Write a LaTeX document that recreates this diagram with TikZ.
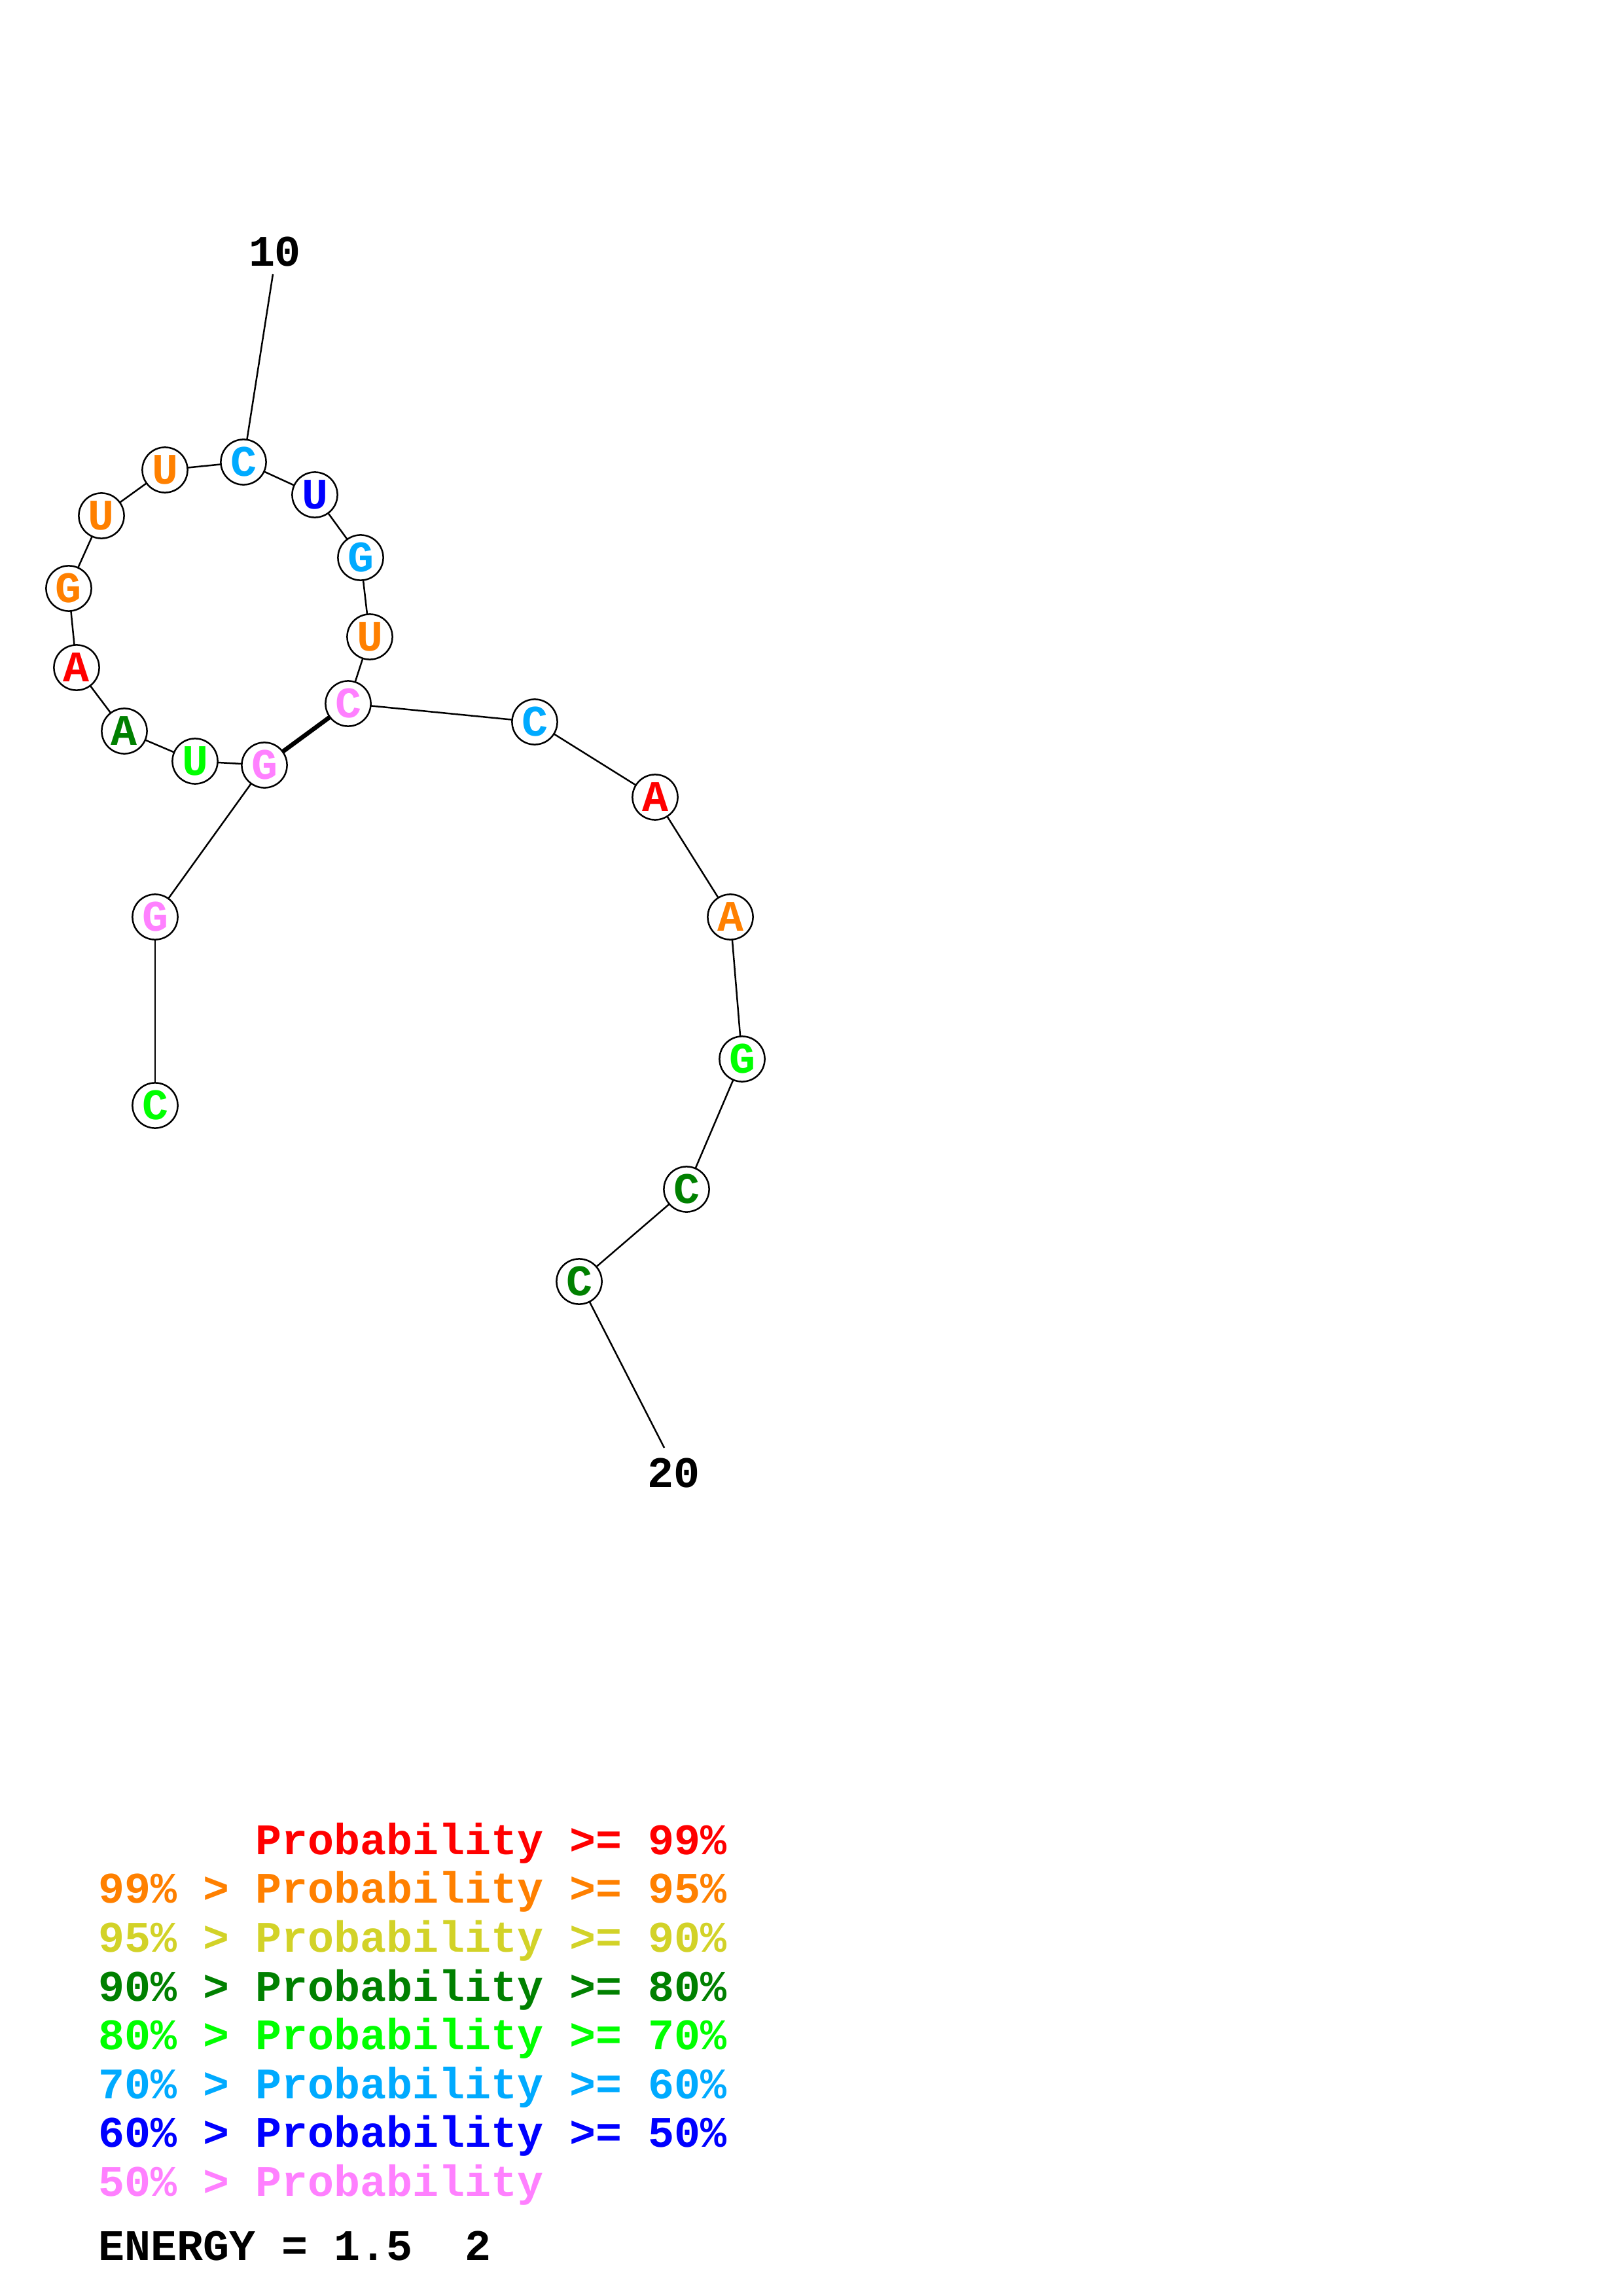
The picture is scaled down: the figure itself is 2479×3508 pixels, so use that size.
\documentclass[tikz,border=0pt]{standalone}
\usepackage{fontspec}
\usetikzlibrary{backgrounds}
\newfontfamily\cour{Liberation Mono}
\definecolor{cRed}{RGB}{255,0,0}
\definecolor{cOrange}{RGB}{255,128,0}
\definecolor{cYellow}{RGB}{210,210,40}
\definecolor{cDkGreen}{RGB}{0,128,0}
\definecolor{cGreen}{RGB}{0,255,0}
\definecolor{cCyan}{RGB}{0,170,255}
\definecolor{cBlue}{RGB}{0,0,255}
\definecolor{cPink}{RGB}{255,128,255}
\tikzset{
  base/.style={circle, draw=black, line width=0.6pt, fill=white, minimum size=16.6pt, inner sep=0pt,
    font=\cour\bfseries\fontsize{16}{18}\selectfont},
  bond/.style={line width=0.6pt},
  pair/.style={line width=1.6pt},
  numlabel/.style={inner sep=0pt, font=\cour\bfseries\fontsize{16}{18}\selectfont},
  legend/.style={anchor=base west, inner sep=0pt, font=\cour\bfseries\fontsize{16}{18}\selectfont}
}
\begin{document}
\begin{tikzpicture}[x=0.24pt, y=-0.24pt]
\useasboundingbox (0,0) rectangle (2479,3508);
% nucleotides
\node[base, text=cGreen]   (n1)  at (237,1689) {C};
\node[base, text=cPink]    (n2)  at (237,1401) {G};
\node[base, text=cPink]    (n3)  at (404,1169) {G};
\node[base, text=cGreen]   (n4)  at (298,1163) {U};
\node[base, text=cDkGreen] (n5)  at (190,1117) {A};
\node[base, text=cRed]     (n6)  at (117,1020) {A};
\node[base, text=cOrange]  (n7)  at (105,899)  {G};
\node[base, text=cOrange]  (n8)  at (155,788)  {U};
\node[base, text=cOrange]  (n9)  at (252,718)  {U};
\node[base, text=cCyan]    (n10) at (372,706)  {C};
\node[base, text=cBlue]    (n11) at (481,756)  {U};
\node[base, text=cCyan]    (n12) at (551,852)  {G};
\node[base, text=cOrange]  (n13) at (565,973)  {U};
\node[base, text=cPink]    (n14) at (532,1075) {C};
\node[base, text=cCyan]    (n15) at (817,1103) {C};
\node[base, text=cRed]     (n16) at (1001,1218) {A};
\node[base, text=cOrange]  (n17) at (1116,1401) {A};
\node[base, text=cGreen]   (n18) at (1134,1618) {G};
\node[base, text=cDkGreen] (n19) at (1049,1817) {C};
\node[base, text=cDkGreen] (n20) at (885,1958) {C};
% labels
\node[numlabel] (l10) at (420,385) {10};
\node[numlabel] (l20) at (1029,2251) {20};
\coordinate (e10) at (417,419);
\coordinate (e20) at (1015,2212);
% backbone
\begin{pgfonlayer}{background}
\draw[bond] (n1.center) -- (n2.center);
\draw[bond] (n2.center) -- (n3.center);
\draw[bond] (n3.center) -- (n4.center);
\draw[bond] (n4.center) -- (n5.center);
\draw[bond] (n5.center) -- (n6.center);
\draw[bond] (n6.center) -- (n7.center);
\draw[bond] (n7.center) -- (n8.center);
\draw[bond] (n8.center) -- (n9.center);
\draw[bond] (n9.center) -- (n10.center);
\draw[bond] (n10.center) -- (n11.center);
\draw[bond] (n11.center) -- (n12.center);
\draw[bond] (n12.center) -- (n13.center);
\draw[bond] (n13.center) -- (n14.center);
\draw[bond] (n14.center) -- (n15.center);
\draw[bond] (n15.center) -- (n16.center);
\draw[bond] (n16.center) -- (n17.center);
\draw[bond] (n17.center) -- (n18.center);
\draw[bond] (n18.center) -- (n19.center);
\draw[bond] (n19.center) -- (n20.center);
\draw[pair] (n3.center) -- (n14.center);
\draw[bond] (n10.center) -- (e10);
\draw[bond] (n20.center) -- (e20);
\end{pgfonlayer}
% legend
\node[legend, text=cRed]     (r1) at (150,2833) {\hphantom{99\% > }Probability >= 99\%};
\node[legend, text=cOrange]  (r2) at (150,2907) {99\% > Probability >= 95\%};
\node[legend, text=cYellow]  (r3) at (150,2982) {95\% > Probability >= 90\%};
\node[legend, text=cDkGreen] (r4) at (150,3057) {90\% > Probability >= 80\%};
\node[legend, text=cGreen]   (r5) at (150,3131) {80\% > Probability >= 70\%};
\node[legend, text=cCyan]    (r6) at (150,3206) {70\% > Probability >= 60\%};
\node[legend, text=cBlue]    (r7) at (150,3280) {60\% > Probability >= 50\%};
\node[legend, text=cPink]    (r8) at (150,3355) {50\% > Probability};
\node[legend, text=black]    (en) at (150,3453) {ENERGY = 1.5\ \ 2};
\end{tikzpicture}
\end{document}
